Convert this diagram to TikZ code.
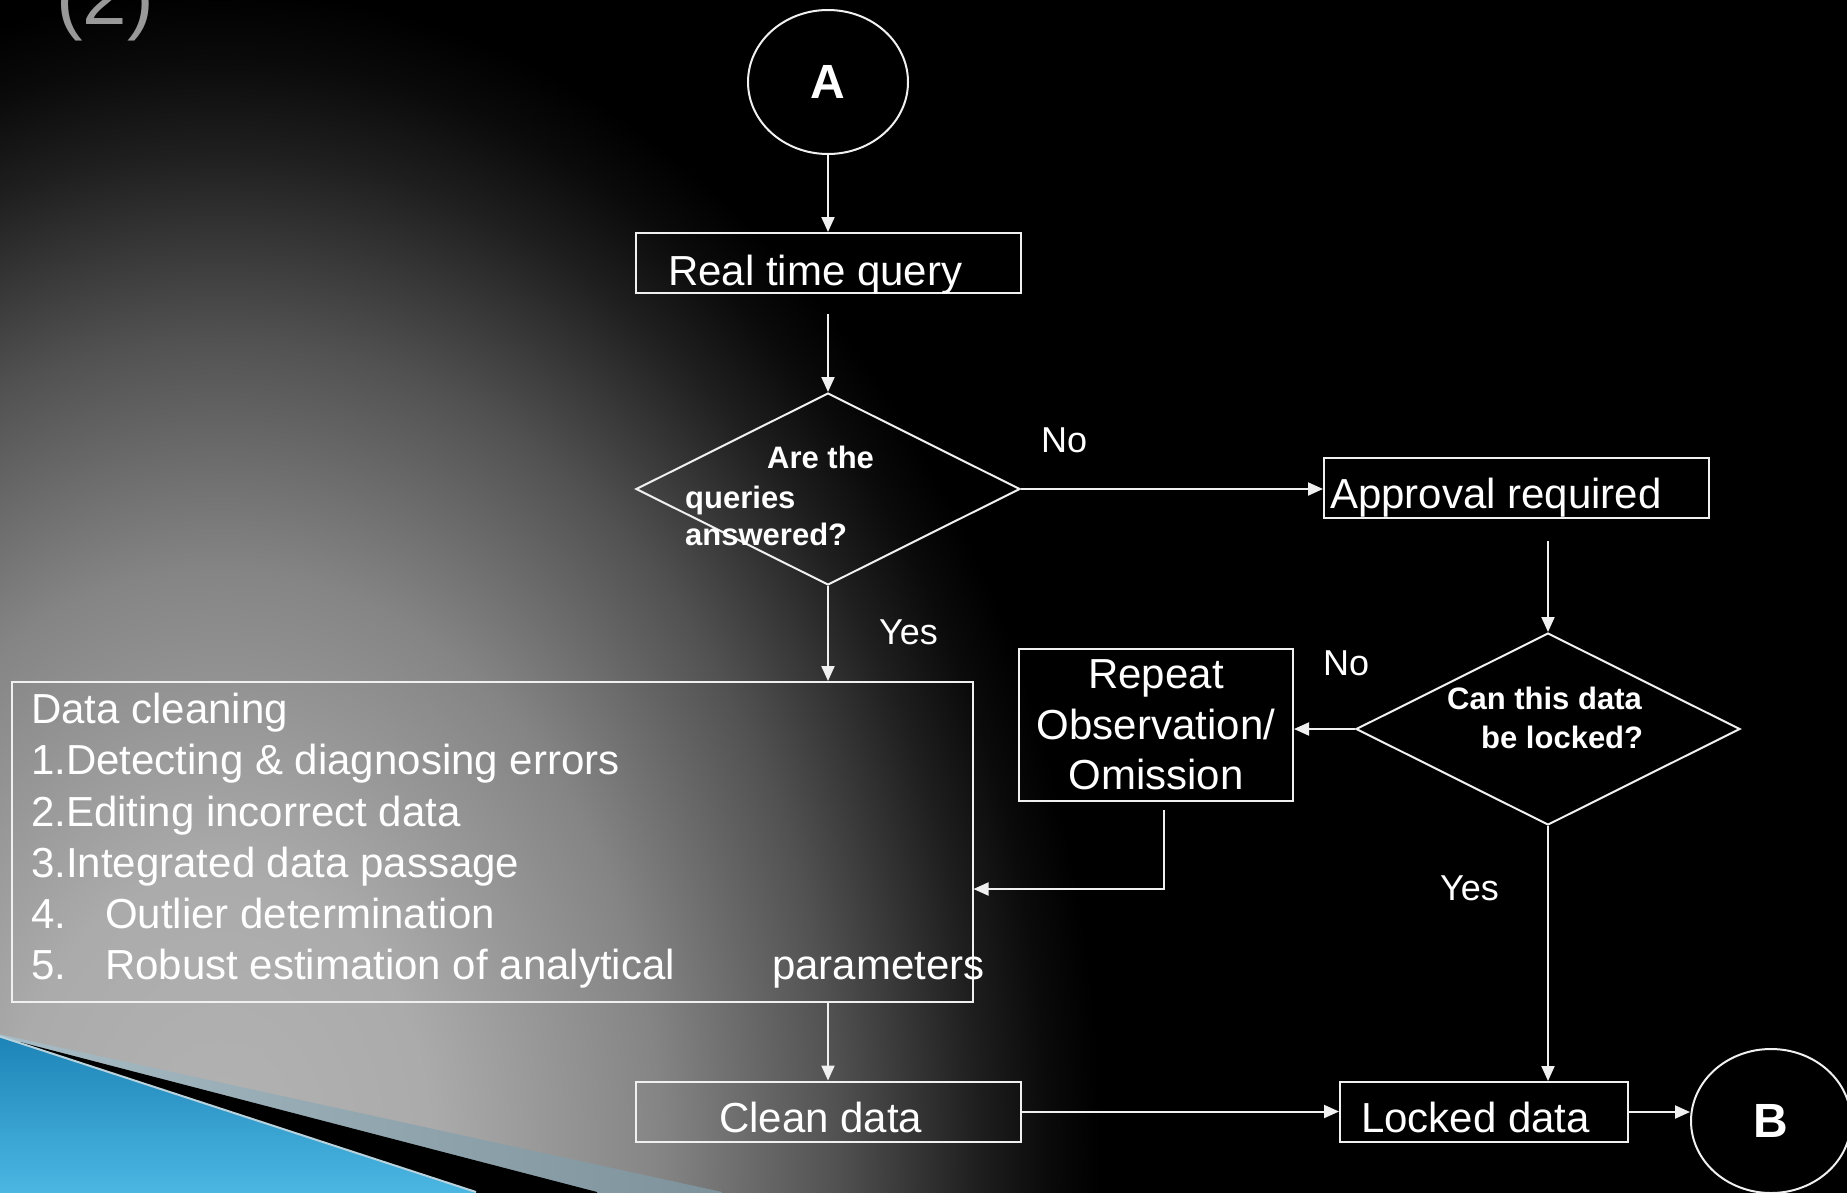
\documentclass[tikz,border=0pt]{standalone}
\usepackage{fontspec}
\setmainfont{Liberation Sans}
\usetikzlibrary{shapes.geometric,arrows.meta,calc}
\definecolor{linecol}{gray}{0.94}
\definecolor{g0}{gray}{0.70}
\definecolor{g1}{gray}{0.67}
\definecolor{g2}{gray}{0.52}
\definecolor{g3}{gray}{0.32}
\definecolor{g4}{gray}{0.12}
\definecolor{g5}{gray}{0.04}
\definecolor{steelA}{HTML}{A9BDC7}
\definecolor{steelB}{HTML}{7E929B}
\definecolor{blueA}{HTML}{1C82B6}
\definecolor{blueB}{HTML}{4DB9E4}
\definecolor{blueline}{HTML}{B8D2DE}
\pgfdeclareradialshading{bgshade}{\pgfpoint{0bp}{0bp}}{color(0bp)=(g0); color(6bp)=(g1); color(12.5bp)=(g2); color(17.5bp)=(g3); color(21.5bp)=(g4); color(23.5bp)=(g5); color(25bp)=(black); color(50bp)=(black)}
\tikzset{
  boxnode/.style={draw=linecol, line width=2pt, inner sep=0pt, rectangle},
  txt/.style={text=white, font=\fontsize{42}{50.5}\selectfont, anchor=base west, inner sep=0pt},
  dtxt/.style={text=white, font=\fontsize{31}{37}\selectfont\bfseries, anchor=base west, inner sep=0pt},
  lbl/.style={text=white, font=\fontsize{36}{40}\selectfont, anchor=base west, inner sep=0pt},
  decision/.style={diamond, draw=linecol, line width=2pt, inner sep=0pt, minimum width=384pt, minimum height=192pt},
  connector/.style={ellipse, draw=linecol, line width=2pt, inner sep=0pt, minimum width=160pt, minimum height=144pt, text=white, font=\fontsize{48}{52}\selectfont\bfseries},
  arr/.style={draw=linecol, line width=2pt, -{Triangle[length=15pt,width=13pt]}}
}
\begin{document}
\begin{tikzpicture}[x=1pt,y=-1pt]
\useasboundingbox (0,0) rectangle (1847,1192);
\fill[black] (-10,-10) rectangle (1857,1202);
\begin{scope}
  \clip (-10,-10) rectangle (1857,1202);
  \shade[shading=bgshade] (220,1150) ellipse [x radius=880, y radius=1160];
  % swoosh
  \shade[left color=steelA, right color=steelB] (-20,1030) -- (722,1192) -- (722,1202) -- (-20,1202) -- cycle;
  \fill[black] (20,1042) -- (597,1192) -- (597,1202) -- (-20,1202) -- cycle;
  \shade[shading angle=135, top color=blueA, bottom color=blueB] (-20,1030) -- (476,1192) -- (476,1202) -- (-20,1202) -- cycle;
  \draw[blueline, line width=2pt] (-20,1030) -- (476,1192);
\end{scope}

% title fragment
\node[anchor=base, text=gray!80, font=\fontsize{80}{80}\selectfont, inner sep=0pt] (title) at (105,24) {(2)};

% nodes
\node[connector] (A) at (828,82) {A};
\node[boxnode, minimum width=385pt, minimum height=60pt] (rtq) at (828.5,263) {};
\node[txt] (rtqt) at (668,285) {Real time query};

\node[decision] (d1) at (828,489) {};
\node[dtxt] (d1a) at (767,468) {Are the};
\node[dtxt] (d1b) at (685,508) {queries};
\node[dtxt] (d1c) at (685,545) {answered?};

\node[boxnode, minimum width=385pt, minimum height=60pt] (appr) at (1516.5,488) {};
\node[txt] (apprt) at (1330,508) {Approval required};

\node[decision] (d2) at (1548,729) {};
\node[dtxt] (d2a) at (1447,709) {Can this data};
\node[dtxt] (d2b) at (1481,748) {be locked?};

\node[boxnode, minimum width=274pt, minimum height=152pt, align=center, text=white, font=\fontsize{42}{50.5}\selectfont] (rep) at (1156,725) {Repeat\\Observation/\\Omission};

\node[boxnode, minimum width=961pt, minimum height=320pt] (dc) at (492,842) {};
\node[txt] (dc1) at (31,723) {Data cleaning};
\node[txt] (dc2) at (31,774) {1.Detecting \& diagnosing errors};
\node[txt] (dc3) at (31,826) {2.Editing incorrect data};
\node[txt] (dc4) at (31,877) {3.Integrated data passage};
\node[txt] (dc5) at (31,928) {\makebox[74pt][l]{4.}Outlier determination};
\node[txt] (dc6) at (31,979) {\makebox[74pt][l]{5.}Robust estimation of analytical};
\node[txt] (dc7) at (772,979) {parameters};

\node[boxnode, minimum width=385pt, minimum height=60pt] (clean) at (828,1111.5) {};
\node[txt] (cleant) at (719,1132) {Clean data};

\node[boxnode, minimum width=288pt, minimum height=60pt] (locked) at (1484,1112) {};
\node[txt] (lockedt) at (1361,1132) {Locked data};

\node[connector] (B) at (1771,1121) {B};

% labels
\node[lbl] (no1) at (1041,452) {No};
\node[lbl] (no2) at (1323,675) {No};
\node[lbl] (yes1) at (879,644) {Yes};
\node[lbl] (yes2) at (1440,900) {Yes};

% connectors
\draw[arr] (A.south) -- (A.south |- rtq.north);
\draw[arr, shorten <=20pt] (rtq.south -| d1.north) -- (d1.north);
\draw[arr] (d1.east) -- (d1.east -| appr.west);
\draw[arr, shorten <=22pt] (appr.south -| d2.north) -- (d2.north);
\draw[arr] (d2.west) -- (d2.west -| rep.east);
\coordinate (loopc) at (1164,889);
\draw[arr] (loopc |- rep.south) ++(0,8) -- (loopc) -- (loopc -| dc.east);
\draw[arr] (d1.south) -- (d1.south |- dc.north);
\draw[arr] (d1.south |- dc.south) -- (d1.south |- clean.north);
\draw[arr] (clean.east) -- (clean.east -| locked.west);
\draw[arr] (d2.south) -- (d2.south |- locked.north);
\draw[arr] (locked.east) -- (locked.east -| B.west);
\end{tikzpicture}
\end{document}
